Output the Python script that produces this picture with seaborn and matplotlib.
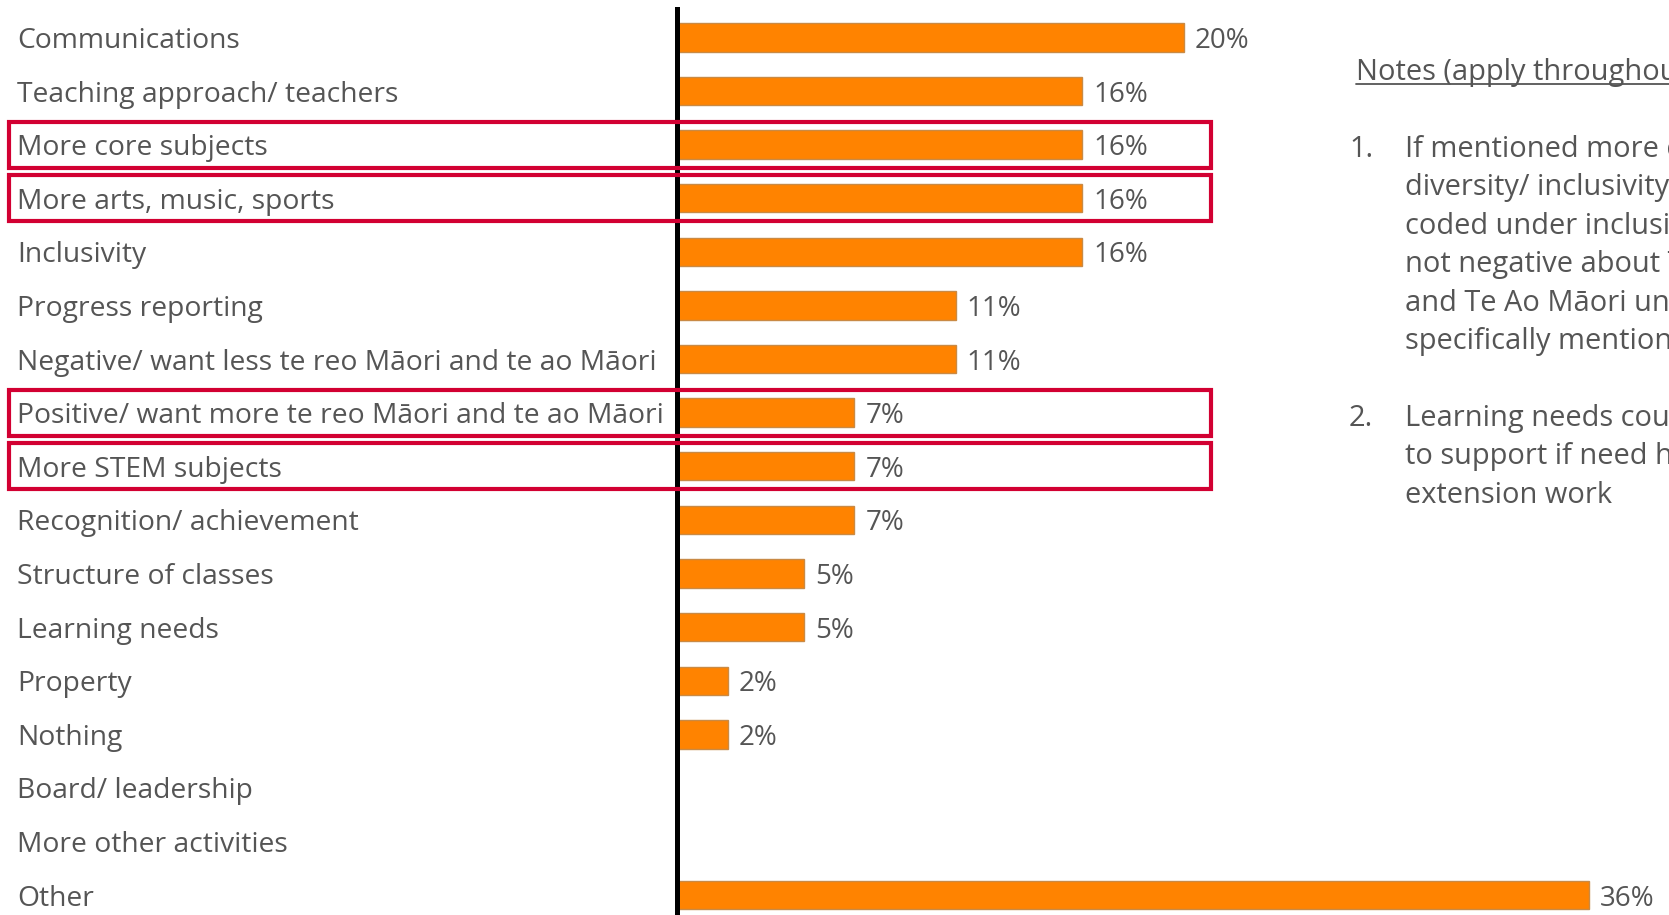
import matplotlib
matplotlib.use("Agg")
import matplotlib.pyplot as plt
import seaborn as sns
import pandas as pd
from matplotlib.patches import Rectangle
from matplotlib.lines import Line2D
from matplotlib.transforms import blended_transform_factory

# Survey themes and the share of responses that mentioned each one (%)
categories = [
    "Communications",
    "Teaching approach/ teachers",
    "More core subjects",
    "More arts, music, sports",
    "Inclusivity",
    "Progress reporting",
    "Negative/ want less te reo Māori and te ao Māori",
    "Positive/ want more te reo Māori and te ao Māori",
    "More STEM subjects",
    "Recognition/ achievement",
    "Structure of classes",
    "Learning needs",
    "Property",
    "Nothing",
    "Board/ leadership",
    "More other activities",
    "Other",
]
shares = [20, 16, 16, 16, 16, 11, 11, 7, 7, 7, 5, 5, 2, 2, 0, 0, 36]

# Themes boxed in red
highlighted = [
    "More core subjects",
    "More arts, music, sports",
    "Positive/ want more te reo Māori and te ao Māori",
    "More STEM subjects",
]

notes_header = "Notes (apply throughout the report)"
note_1 = [
    "If mentioned more cultural",
    "diversity/ inclusivity this was",
    "coded under inclusivity and",
    "not negative about Te Reo",
    "and Te Ao Māori unless",
    "specifically mentioned",
]
note_2 = [
    "Learning needs could relate",
    "to support if need help or",
    "extension work",
]

BAR_COLOR = "#ff8300"
TEXT_COLOR = "#555555"
BOX_COLOR = "#d20032"

sns.set_theme(style="white")
plt.rcParams["font.family"] = ["Open Sans", "DejaVu Sans"]

W, H = 1669, 915
fig = plt.figure(figsize=(W / 100, H / 100), dpi=100)
fig.patch.set_facecolor("white")

axis_x = 677          # pixel column of the vertical axis line
px_per_pct = 25.33    # horizontal scale of the bars
ax = fig.add_axes([axis_x / W, 0, (W - axis_x) / W, 906 / H])
ax.set_facecolor("white")

df = pd.DataFrame({"category": categories, "share": shares})
sns.barplot(
    data=df, x="share", y="category", orient="h",
    color=BAR_COLOR, saturation=1, width=0.53,
    edgecolor="#c98a45", linewidth=1, ax=ax,
)

value_texts = ax.bar_label(
    ax.containers[0],
    labels=[f"{v}%" if v > 0 else "" for v in shares],
    padding=8, fontsize=20, color=TEXT_COLOR,
)
for t in value_texts:
    t.set_verticalalignment("center_baseline")

# Red boxes spanning label and bar of the highlighted rows
box_tr = blended_transform_factory(fig.transFigure, ax.transData)
for i, cat in enumerate(categories):
    if cat in highlighted:
        ax.add_patch(Rectangle(
            (8.5 / W, i - 0.43), (1211 - 8.5) / W, 0.86,
            transform=box_tr, fill=False, edgecolor=BOX_COLOR,
            linewidth=3, clip_on=False, zorder=5,
        ))

ax.set_xlim(0, (W - axis_x) / px_per_pct)
ax.set_ylim(len(categories) - 1 + 0.37, -0.53)
ax.set_xticks([])
ax.set_xlabel("")
ax.set_ylabel("")
for side in ("top", "right", "bottom"):
    ax.spines[side].set_visible(False)
ax.spines["left"].set_color("black")
ax.spines["left"].set_linewidth(3.6)

ax.tick_params(axis="y", length=0, pad=475, labelsize=20.3, labelcolor=TEXT_COLOR)
for lbl in ax.get_yticklabels():
    lbl.set_horizontalalignment("left")

# Notes panel on the right
note_font = dict(family=["Open Sans", "DejaVu Sans"], fontsize=20.9,
                 color=TEXT_COLOR, va="baseline")
header = fig.text(1356 / W, 1 - 80 / H, notes_header, **note_font)

fig.text(1349 / W, 1 - 157 / H, "1.", **note_font)
for k, line in enumerate(note_1):
    fig.text(1405 / W, 1 - (157 + 38.4 * k) / H, line, **note_font)
fig.text(1349 / W, 1 - 426 / H, "2.", **note_font)
for k, line in enumerate(note_2):
    fig.text(1405 / W, 1 - (426 + 38.4 * k) / H, line, **note_font)

fig.canvas.draw()
bb = header.get_window_extent()
y_ul = 1 - 84 / H
fig.add_artist(Line2D([bb.x0 / W, bb.x1 / W], [y_ul, y_ul],
                      transform=fig.transFigure, color=TEXT_COLOR, linewidth=1.3))

fig.savefig("out.png", dpi=100, facecolor="white")
